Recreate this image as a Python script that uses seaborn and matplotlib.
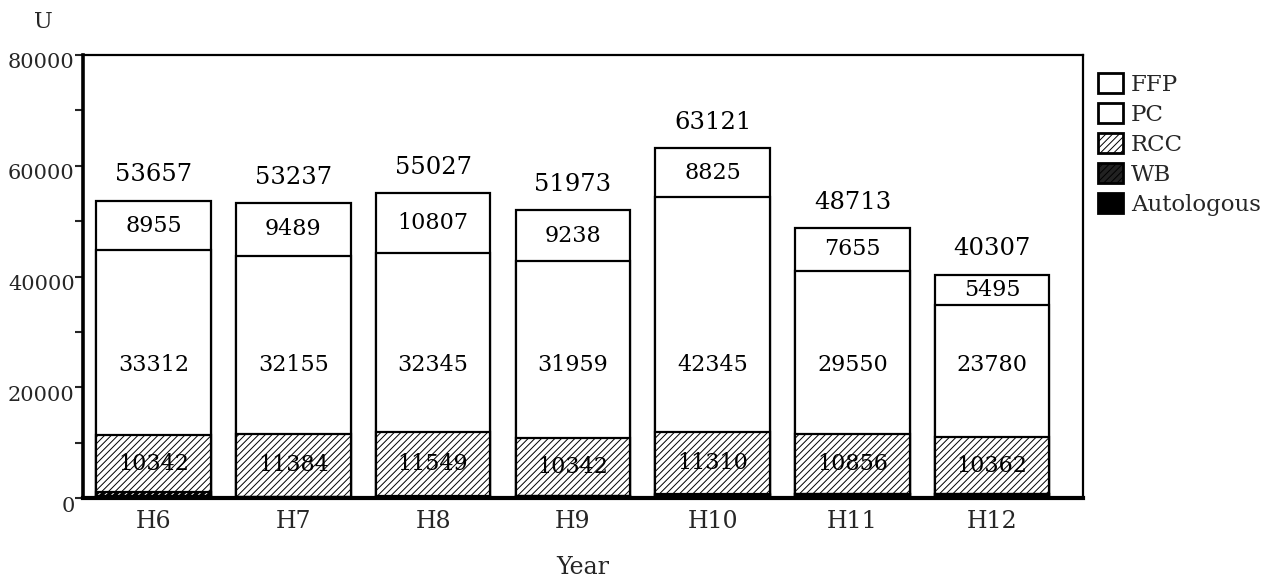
import numpy as np
import pandas as pd
import matplotlib
matplotlib.use("Agg")
import matplotlib.pyplot as plt
import matplotlib.transforms as mtransforms
from matplotlib.patches import Patch
import seaborn as sns

# Blood product usage by fiscal year (units)
years = ["H6", "H7", "H8", "H9", "H10", "H11", "H12"]
ffp = [8955, 9489, 10807, 9238, 8825, 7655, 5495]
pc = [33312, 32155, 32345, 31959, 42345, 29550, 23780]
rcc = [10342, 11384, 11549, 10342, 11310, 10856, 10362]
wb = [700, 50, 120, 30, 20, 10, 5]
autologous = [348, 159, 206, 404, 621, 642, 665]
totals = [53657, 53237, 55027, 51973, 63121, 48713, 40307]

sns.set_theme(style="white")
plt.rcParams["font.family"] = ["DejaVu Serif"]
plt.rcParams["hatch.linewidth"] = 0.7

df = pd.DataFrame({"year": years, "FFP": ffp, "PC": pc, "RCC": rcc,
                   "WB": wb, "Autologous": autologous})
# cumulative heights, bottom to top
df["c_auto"] = df["Autologous"]
df["c_wb"] = df["c_auto"] + df["WB"]
df["c_rcc"] = df["c_wb"] + df["RCC"]
df["c_pc"] = df["c_rcc"] + df["PC"]
df["c_ffp"] = df["c_pc"] + df["FFP"]

fig = plt.figure(figsize=(12.8, 5.8), dpi=100)
ax = fig.add_axes([83 / 1280, 82 / 580, 1000 / 1280, 443 / 580])

layers = [
    ("c_ffp", "white", "black", None),
    ("c_pc", "white", "black", None),
    ("c_rcc", "white", "black", "/////"),
    ("c_wb", "black", "white", "/////"),
    ("c_auto", "black", "black", None),
]
for col, face, hcol, hatch in layers:
    sns.barplot(data=df, x="year", y=col, ax=ax, color=face, width=0.82,
                edgecolor="black", linewidth=1.6, saturation=1, errorbar=None)
    if hatch:
        for p in ax.patches[-len(years):]:
            p.set_hatch(hatch)
            p.set_edgecolor("black")
            p._hatch_color = matplotlib.colors.to_rgba(hcol)

# segment labels
for i in range(len(years)):
    ax.text(i, df["c_pc"][i] + df["FFP"][i] / 2, f"{ffp[i]}", ha="center",
            va="center", fontsize=16, color="black")
    ax.text(i, 24000, f"{pc[i]}", ha="center", va="center", fontsize=16,
            color="black")
    ax.text(i, df["c_wb"][i] + df["RCC"][i] / 2, f"{rcc[i]}", ha="center",
            va="center", fontsize=16, color="black")
    ax.text(i, totals[i] + 2600, f"{totals[i]}", ha="center", va="bottom",
            fontsize=17.5, color="black")

ax.set_xlim(-0.505, 6.65)
ax.set_ylim(0, 80000)
ax.set_yticks([0, 20000, 40000, 60000, 80000])
ax.set_yticks([10000, 30000, 50000, 70000], minor=True)
ax.tick_params(axis="y", which="both", direction="out", left=True,
               length=6, width=1.5, pad=0, labelsize=15)
ax.tick_params(axis="x", which="both", length=0, pad=9, labelsize=17)
shift = mtransforms.ScaledTranslation(0, -6 / 100, fig.dpi_scale_trans)
for lbl in ax.get_yticklabels():
    lbl.set_transform(lbl.get_transform() + shift)
ax.set_xlabel("Year", fontsize=17, labelpad=16)
ax.set_ylabel("")
ax.text(-0.04, 1.05, "U", transform=ax.transAxes, fontsize=16,
        ha="center", va="bottom")

for side, lw in [("left", 2.6), ("bottom", 3.0), ("top", 1.6), ("right", 1.6)]:
    ax.spines[side].set_visible(True)
    ax.spines[side].set_color("black")
    ax.spines[side].set_linewidth(lw)

handles = [
    Patch(facecolor="white", edgecolor="black", linewidth=2, label="FFP"),
    Patch(facecolor="white", edgecolor="black", linewidth=2, label="PC"),
    Patch(facecolor="white", edgecolor="black", linewidth=2, hatch="/////",
          label="RCC"),
    Patch(facecolor="#222222", edgecolor="black", linewidth=2, hatch="/////",
          label="WB"),
    Patch(facecolor="black", edgecolor="black", linewidth=2,
          label="Autologous"),
]
leg = ax.legend(handles=handles, loc="upper left", bbox_to_anchor=(1.015, 0.96),
                frameon=False, fontsize=16.5, handlelength=1.1, handleheight=1.0,
                handletextpad=0.35, labelspacing=0.3, borderaxespad=0,
                borderpad=0)

fig.savefig("out.png", dpi=100, facecolor="white")
